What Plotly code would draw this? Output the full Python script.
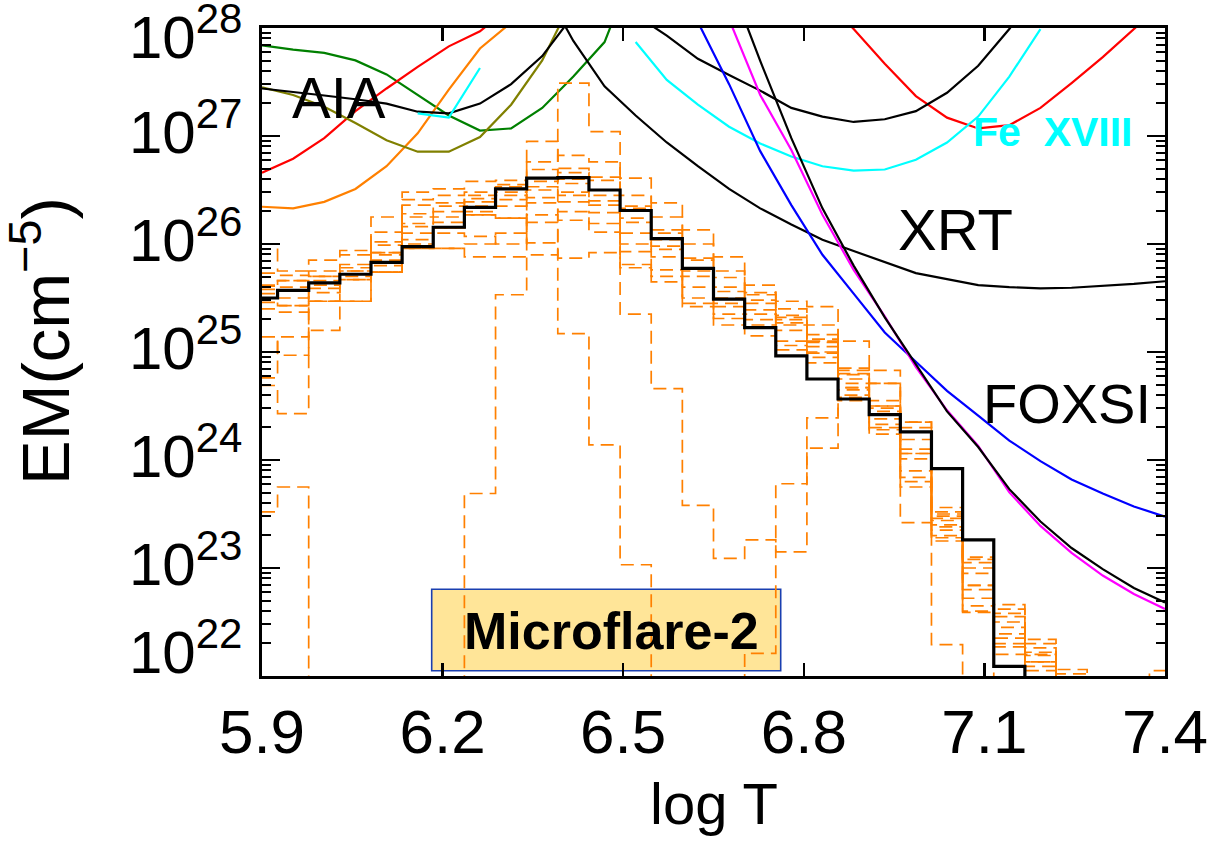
import plotly.graph_objects as go

# ---------------- data ----------------
# log T grid (30 points, 5.9 .. 7.4)
logT = [5.9000, 5.9517, 6.0034, 6.0552, 6.1069, 6.1586, 6.2103, 6.2621, 6.3138, 6.3655,
        6.4172, 6.4690, 6.5207, 6.5724, 6.6241, 6.6759, 6.7276, 6.7793, 6.8310, 6.8828,
        6.9345, 6.9862, 7.0379, 7.0897, 7.1414, 7.1931, 7.2448, 7.2966, 7.3483, 7.4000]

# EM loci curves, log10(EM) (None = not drawn)
aia_green = [27.84, 27.80, 27.77, 27.70, 27.57, 27.38, 27.19, 27.05, 27.07, 27.26, 27.55, 27.87, 28.6,
             None, None, None, None, None, None, None, None, None, None, None, None, None, None, None, None, None]
aia_red = [26.66, 26.79, 26.98, 27.23, 27.44, 27.64, 27.83, 27.97, 28.2, 28.6, 29.0, 29.0, 29.0, 29.0, 29.0,
           29.0, 29.0, 28.8, 28.3, 27.99, 27.67, 27.37, 27.17, 27.07, 27.10, 27.26, 27.49, 27.73, 27.99, 28.25]
aia_orange = [26.345, 26.33, 26.39, 26.51, 26.72, 27.025, 27.43, 27.81, 28.05, 28.4,
              None, None, None, None, None, None, None, None, None, None, None, None, None, None, None, None, None, None, None, None]
aia_olive = [27.45, 27.38, 27.27, 27.12, 26.96, 26.855, 26.855, 26.99, 27.29, 27.70, 28.28,
             None, None, None, None, None, None, None, None, None, None, None, None, None, None, None, None, None, None, None]
aia_black = [27.44, 27.41, 27.375, 27.34, 27.30, 27.225, 27.21, 27.30, 27.48, 27.74, 28.12, 28.6, 28.12,
             27.93, 27.715, 27.565, 27.42, 27.26, 27.18, 27.13, 27.155, 27.23, 27.40, 27.65, 27.99, 28.4,
             None, None, None, None]
cyan_fe18 = [None, None, None, None, None, 27.21, 27.17, 27.63, None, None, None, None, 27.87, 27.52, 27.29,
             27.086, 26.93, 26.81, 26.72, 26.68, 26.69, 26.78, 26.94, 27.18, 27.55, 27.99, None, None, None, None]
xrt = [None, None, None, None, None, None, None, None, None, 28.4, 27.88, 27.46, 27.19, 26.94, 26.72, 26.51,
       26.33, 26.18, 26.04, 25.935, 25.83, 25.73, 25.675, 25.62, 25.60, 25.59, 25.595, 25.61, 25.63, 25.655]
foxsi_blue = [None, None, None, None, None, None, None, None, None, None, None, None, None, 28.6, 28.055,
              27.48, 26.86, 26.36, 25.90, 25.54, 25.18, 24.91, 24.64, 24.41, 24.18, 23.99, 23.82, 23.69, 23.57, 23.475]
foxsi_magenta = [None, None, None, None, None, None, None, None, None, None, None, None, None, None, 28.6,
                 28.08, 27.38, 26.87, 26.27, 25.76, 25.33, 24.86, 24.46, 24.13, 23.70, 23.39, 23.14, 22.93, 22.76, 22.62]
foxsi_black = [None, None, None, None, None, None, None, None, None, None, None, None, None, None, 29.0,
               28.45, 27.695, 26.98, 26.33, 25.80, 25.32, 24.89, 24.45, 24.12, 23.73, 23.43, 23.185, 22.99, 22.815, 22.68]

# best-fit DEM (log EM per bin), 21.0 = below plot
dem_best = [25.50, 25.57, 25.64, 25.72, 25.83, 25.975, 26.155, 26.34, 26.51, 26.61, 26.615, 26.50, 26.31, 26.05,
            25.775, 25.49, 25.225, 24.965, 24.75, 24.565, 24.42, 24.26, 23.92, 23.26, 22.09, 21.0, 21.0, 21.0, 21.0, 21.0]

# MCMC solutions (dashed), log EM per bin
mc01 = [25.46, 25.43, 25.47, 25.67, 25.74, 25.96, 25.96, 25.88, 25.88, 25.90, 27.49, 27.04, 25.35, 24.66, 23.58,
        23.09, 23.26, 23.15, 24.11, 25.10, 24.83, 23.42, 22.29, 21.0, 21.0, 21.0, 21.0, 21.0, 21.0, 21.0]
mc02 = [25.61, 25.66, 25.70, 25.75, 25.92, 26.04, 26.15, 26.27, 26.24, 26.01, 25.17, 24.14, 23.03, 21.0, 21.0,
        21.0, 22.21, 23.78, 24.39, 24.67, 24.50, 24.06, 23.48, 22.84, 22.39, 22.13, 21.0, 21.0, 21.0, 21.0]
mc03 = [23.52, 23.75, 21.0, 21.0, 21.0, 21.0, 21.0, 23.69, 25.53, 26.76, 26.82, 26.76, 26.61, 26.38, 26.13,
        25.88, 25.62, 25.47, 25.42, 24.83, 24.71, 24.35, 23.56, 23.10, 22.66, 22.34, 22.06, 21.0, 21.0, 21.0]
mc04 = [26.00, 25.75, 25.85, 25.94, 26.25, 26.48, 26.51, 26.58, 26.59, 26.95, 26.70, 26.62, 26.45, 26.25, 26.00,
        25.75, 25.55, 25.40, 25.25, 24.85, 24.55, 24.30, 23.52, 23.08, 22.62, 22.30, 22.02, 21.0, 21.0, 21.0]
mc05 = [25.73, 25.71, 25.70, 25.90, 26.11, 26.41, 26.45, 26.48, 26.53, 26.69, 26.66, 26.59, 26.33, 26.13, 25.87,
        25.69, 25.53, 25.34, 25.16, 24.79, 24.50, 24.19, 23.44, 23.05, 22.58, 22.26, 21.0, 21.0, 21.0, 21.0]
mc06 = [25.58, 25.66, 25.75, 25.81, 25.99, 26.36, 26.38, 26.45, 26.55, 26.61, 26.56, 26.45, 26.24, 26.04, 25.78,
        25.56, 25.45, 25.30, 25.09, 24.71, 24.48, 24.06, 23.40, 22.95, 22.50, 22.20, 21.0, 21.0, 21.0, 21.0]
mc07 = [25.54, 25.50, 25.59, 25.75, 25.92, 26.28, 26.30, 26.39, 26.41, 26.53, 26.48, 26.36, 26.10, 25.98, 25.70,
        25.50, 25.39, 25.27, 25.05, 24.67, 24.38, 24.01, 23.28, 22.84, 22.35, 22.19, 21.0, 21.0, 21.0, 21.0]
mc08 = [25.50, 25.43, 25.62, 25.70, 25.85, 26.19, 26.25, 26.35, 26.45, 26.43, 26.39, 26.29, 26.00, 25.88, 25.60,
        25.42, 25.30, 25.20, 24.99, 24.60, 24.33, 23.90, 23.30, 22.72, 22.27, 22.13, 21.0, 21.0, 21.0, 21.0]
mc09 = [25.40, 25.37, 25.47, 25.67, 25.74, 26.10, 26.15, 26.27, 26.24, 26.27, 26.22, 26.19, 25.93, 25.76, 25.50,
        25.31, 25.22, 25.06, 24.95, 24.55, 24.24, 23.84, 23.35, 22.59, 22.20, 21.0, 21.0, 21.0, 21.0, 21.0]
mc10 = [25.14, 24.97, 25.47, 25.47, 25.80, 26.16, 26.20, 26.30, 26.35, 26.50, 26.45, 26.40, 26.20, 25.95, 25.75,
        25.45, 25.35, 25.25, 25.10, 24.75, 24.45, 24.10, 23.46, 22.80, 22.45, 22.09, 21.0, 21.0, 21.0, 21.0]
mc11 = [24.76, 25.14, 25.55, 25.72, 25.90, 26.00, 26.10, 26.07, 26.00, 26.20, 25.87, 25.92, 25.78, 25.70, 25.42,
        25.35, 25.25, 25.10, 25.00, 24.65, 24.30, 23.75, 23.25, 22.65, 22.30, 22.05, 21.0, 21.0, 21.0, 21.0]
mc12 = [24.69, 24.43, 25.20, 25.47, 25.74, 25.96, 25.96, 26.00, 26.10, 26.38, 26.30, 26.11, 25.81, 25.65, 25.45,
        25.25, 25.15, 25.02, 24.90, 24.58, 24.28, 23.80, 23.38, 22.60, 21.0, 21.0, 21.0, 21.0, 21.0, 21.0]
mc13 = [25.62, 25.60, 25.66, 25.78, 26.02, 26.25, 26.35, 26.42, 26.48, 26.58, 26.60, 26.50, 26.35, 26.10, 25.85,
        25.60, 25.48, 25.32, 25.12, 24.80, 24.71, 24.35, 23.50, 23.00, 22.55, 22.22, 21.0, 21.0, 21.0, 22.05]
mcmc_runs = [mc01, mc02, mc03, mc04, mc05, mc06, mc07, mc08, mc09, mc10, mc11, mc12, mc13]

x_ticks = [5.9, 6.2, 6.5, 6.8, 7.1, 7.4]
y_decades = [22, 23, 24, 25, 26, 27, 28]

FONT = "Liberation Sans"


def em(vals):
    return [None if v is None else 10 ** v for v in vals]


fig = go.Figure()

# loci curves
loci = [
    (aia_green, "#008000"), (aia_red, "#ff0000"), (aia_orange, "#ff8000"),
    (aia_olive, "#808000"), (aia_black, "#000000"), (cyan_fe18, "#00ffff"),
    (xrt, "#000000"), (foxsi_blue, "#0000ff"), (foxsi_magenta, "#ff00ff"),
    (foxsi_black, "#000000"),
]
for vals, col in loci:
    fig.add_trace(go.Scatter(x=logT, y=em(vals), mode="lines",
                             line=dict(color=col, width=2.2), connectgaps=False,
                             hoverinfo="skip", showlegend=False))

# MCMC solutions
for run in mcmc_runs:
    fig.add_trace(go.Scatter(x=logT, y=em(run), mode="lines",
                             line=dict(color="#ff8000", width=1.7, dash="13px,7px", shape="hvh"),
                             hoverinfo="skip", showlegend=False))

# best fit
fig.add_trace(go.Scatter(x=logT, y=em(dem_best), mode="lines",
                         line=dict(color="black", width=3.2, shape="hvh"),
                         hoverinfo="skip", showlegend=False))

W, H = 1226, 845
# plot area in pixels
L, R, T, B = 262, 1165, 28, 676


def px(X):
    return (X - L) / (R - L)


def py(Y):
    return (B - Y) / (B - T)


annotations = []
# y tick labels
for d in y_decades:
    shift = 8
    if d == 28:
        shift = -5
    if d == 22:
        shift = 28
    annotations.append(dict(x=0, xref="paper", y=(d - 22) / 6, yref="paper",
                            text="10<sup>%d</sup>" % d, showarrow=False,
                            xanchor="right", yanchor="middle", xshift=-18, yshift=shift,
                            font=dict(family=FONT, size=60, color="black")))

annotations += [
    dict(x=px(41), y=py(341), xref="paper", yref="paper", text="EM(cm<sup>\u22125</sup>)",
         textangle=-90, showarrow=False, xanchor="center", yanchor="middle",
         font=dict(family=FONT, size=67, color="black")),
    dict(x=px(714), y=py(803), xref="paper", yref="paper", text="log T", showarrow=False,
         xanchor="center", yanchor="middle", font=dict(family=FONT, size=58, color="black")),
    dict(x=px(339), y=py(97), xref="paper", yref="paper", text="AIA", showarrow=False,
         xanchor="center", yanchor="middle", font=dict(family=FONT, size=58, color="black")),
    dict(x=px(955), y=py(229), xref="paper", yref="paper", text="XRT", showarrow=False,
         xanchor="center", yanchor="middle", font=dict(family=FONT, size=58, color="black")),
    dict(x=px(1067), y=py(403), xref="paper", yref="paper", text="FOXSI", showarrow=False,
         xanchor="center", yanchor="middle", font=dict(family=FONT, size=56, color="black")),
    dict(x=px(1053), y=py(132), xref="paper", yref="paper", text="<b>Fe\u00a0\u00a0XVIII</b>",
         showarrow=False, xanchor="center", yanchor="middle",
         font=dict(family=FONT, size=41, color="#00ffff")),
    dict(x=px(611), y=py(631), xref="paper", yref="paper", text="<b>Microflare-2</b>",
         showarrow=False, xanchor="center", yanchor="middle",
         font=dict(family=FONT, size=52, color="black")),
]

shapes = [dict(type="rect", xref="paper", yref="paper", x0=px(431.7), x1=px(780.7),
               y0=py(670.7), y1=py(589.3), fillcolor="#ffe598",
               line=dict(color="#1a3fb0", width=1.6), layer="below")]

fig.update_layout(
    width=W, height=H,
    margin=dict(l=L, r=W - R, t=T, b=H - B),
    paper_bgcolor="white", plot_bgcolor="white",
    showlegend=False,
    annotations=annotations, shapes=shapes,
    xaxis=dict(range=[5.9, 7.4], tickvals=x_ticks, ticktext=["%.1f" % v for v in x_ticks],
               ticks="inside", ticklen=13, tickwidth=2.5, tickcolor="black",
               showline=True, linewidth=3, linecolor="black", mirror="ticks",
               showgrid=False, zeroline=False, ticklabelstandoff=0,
               tickfont=dict(family=FONT, size=62, color="black")),
    yaxis=dict(type="log", range=[22, 28], dtick=1,
               ticks="inside", ticklen=18, tickwidth=2.5, tickcolor="black",
               showticklabels=False,
               minor=dict(ticks="inside", ticklen=9, tickwidth=2, tickcolor="black", dtick="D1", showgrid=False),
               showline=True, linewidth=3, linecolor="black", mirror="ticks",
               showgrid=False, zeroline=False),
)

# remove the default 8px page margin so the figure fills the window exactly
fig.write_html("out.html", config={"displayModeBar": False, "staticPlot": True},
               post_script="document.body.style.margin='0';document.body.style.overflow='hidden';")
